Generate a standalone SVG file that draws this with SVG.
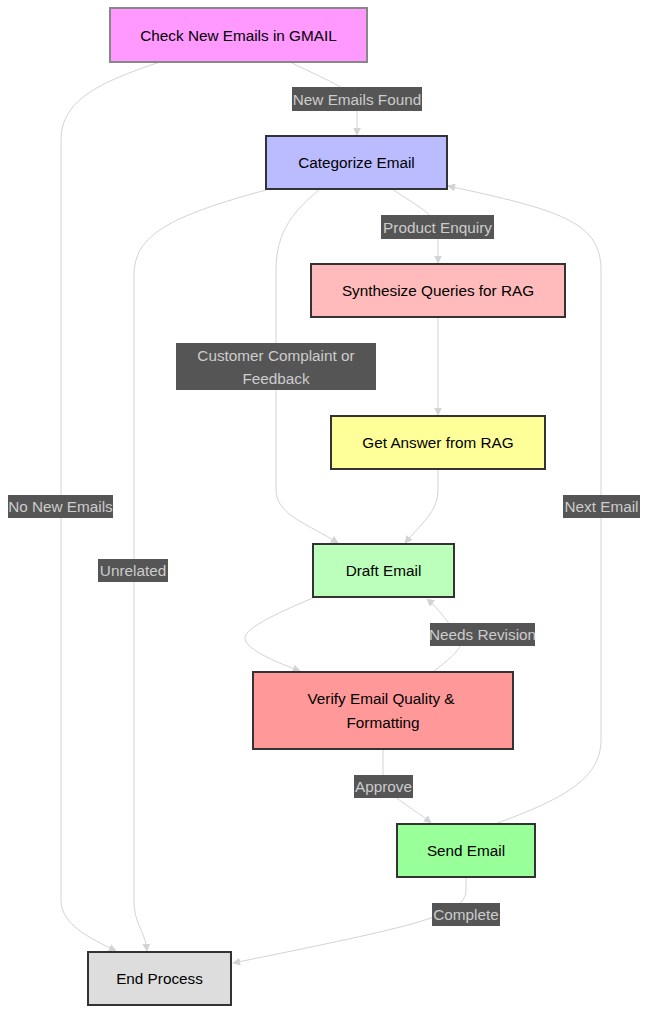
<svg xmlns="http://www.w3.org/2000/svg" width="649" height="1014" viewBox="0 0 649 1014">
<style>
.node rect{stroke:#333;stroke-width:2}
.node text{font-family:"Liberation Sans",Arial,sans-serif;font-size:15.3px;fill:#000;text-anchor:middle;dominant-baseline:central}
.edge{fill:none;stroke:#d3d3d3;stroke-width:1}
.lbl rect{fill:#555}
.lbl text{font-family:"Liberation Sans",Arial,sans-serif;font-size:15.3px;fill:#ccc;text-anchor:middle;dominant-baseline:central}
</style>
<defs>
<marker id="arr" viewBox="0 0 10 10" refX="9" refY="5" markerWidth="8" markerHeight="8" markerUnits="userSpaceOnUse" orient="auto">
<path d="M0,0 L10,5 L0,10 z" fill="#d3d3d3"/>
</marker>
</defs>
<rect width="649" height="1014" fill="#fff"/>
<g id="connectors">
<path class="edge" marker-end="url(#arr)" d="M290,62 C330,82 357,90 357,110 L357,135"/>
<path class="edge" marker-end="url(#arr)" d="M160,62 C100,82 61,100 61,140 L61,900 C61,925 90,938 116,951"/>
<path class="edge" marker-end="url(#arr)" d="M392,189 C420,208 438,215 438,235 L438,263"/>
<path class="edge" marker-end="url(#arr)" d="M320,189 C295,210 276,230 276,270 L276,490 C276,515 310,525 338,543"/>
<path class="edge" marker-end="url(#arr)" d="M266,190 C170,216 134,235 134,275 L134,900 C134,925 145,930 147,951"/>
<path class="edge" marker-end="url(#arr)" d="M438,317 L438,415"/>
<path class="edge" marker-end="url(#arr)" d="M438,469 L438,490 C438,512 420,525 405,543"/>
<path class="edge" marker-end="url(#arr)" d="M313,598 C265,618 245,630 245,638 C245,648 270,660 300,671"/>
<path class="edge" marker-end="url(#arr)" d="M433,672 C455,655 465,645 460,638 C450,625 440,610 427,599"/>
<path class="edge" marker-end="url(#arr)" d="M383,749 L383,775 C383,795 410,805 431,823"/>
<path class="edge" marker-end="url(#arr)" d="M495,824 C560,800 601,780 601,740 L601,270 C601,222 560,210 448,186"/>
<path class="edge" marker-end="url(#arr)" d="M466,877 L466,890 C466,915 420,925 233,963"/>
</g>
<g id="labels">
<g class="lbl"><rect x="292" y="87" width="130" height="24"/><text x="357" y="99">New Emails Found</text></g>
<g class="lbl"><rect x="381" y="215" width="113" height="24"/><text x="437.5" y="227">Product Enquiry</text></g>
<g class="lbl"><rect x="176" y="343" width="200" height="47"/><text x="276" y="355">Customer Complaint or</text><text x="276" y="378">Feedback</text></g>
<g class="lbl"><rect x="8" y="495" width="105" height="23"/><text x="60.5" y="506.5">No New Emails</text></g>
<g class="lbl"><rect x="98" y="559" width="70" height="23"/><text x="133" y="570.5">Unrelated</text></g>
<g class="lbl"><rect x="563" y="495" width="77" height="23"/><text x="601.5" y="506.5">Next Email</text></g>
<g class="lbl"><rect x="430" y="623" width="105" height="23"/><text x="482.5" y="634.5">Needs Revision</text></g>
<g class="lbl"><rect x="354" y="775" width="59" height="23"/><text x="383.5" y="786.5">Approve</text></g>
<g class="lbl"><rect x="432" y="903" width="68" height="23"/><text x="466" y="914.5">Complete</text></g>
</g>
<g id="check" class="node"><rect x="110" y="8" width="257" height="54" fill="#ff99ff" style="stroke:#888"/><text x="238.5" y="35">Check New Emails in GMAIL</text></g>
<g id="categorize" class="node"><rect x="266" y="136" width="181" height="53" fill="#bbbbff"/><text x="356.5" y="162.5">Categorize Email</text></g>
<g id="synth" class="node"><rect x="311" y="264" width="254" height="53" fill="#ffbbbb"/><text x="438" y="290.5">Synthesize Queries for RAG</text></g>
<g id="answer" class="node"><rect x="331" y="416" width="214" height="53" fill="#ffff99"/><text x="438" y="442.5">Get Answer from RAG</text></g>
<g id="draft" class="node"><rect x="313" y="544" width="141" height="53" fill="#bbffbb"/><text x="383.5" y="570.5">Draft Email</text></g>
<g id="verify" class="node"><rect x="253" y="672" width="260" height="77" fill="#ff9999"/><text x="381" y="698">Verify Email Quality &amp;</text><text x="383" y="722">Formatting</text></g>
<g id="send" class="node"><rect x="397" y="824" width="138" height="53" fill="#99ff99"/><text x="466" y="850.5">Send Email</text></g>
<g id="end" class="node"><rect x="88" y="952" width="143" height="53" fill="#dddddd"/><text x="159.5" y="978.5">End Process</text></g>
</svg>
